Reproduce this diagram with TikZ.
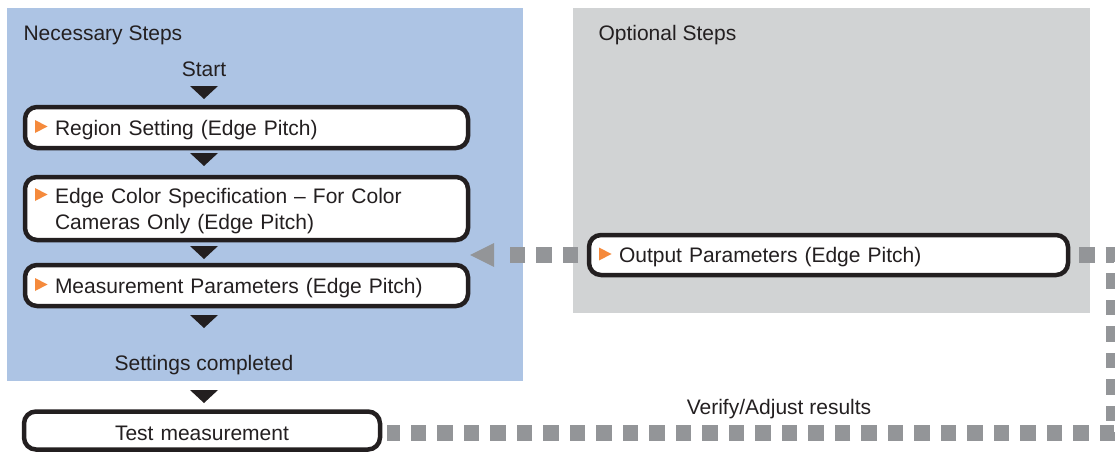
\documentclass[tikz,border=0pt]{standalone}
\usepackage{fontspec}
\setmainfont{Liberation Sans}
\usetikzlibrary{calc}
\definecolor{bluepanel}{RGB}{173,196,228}
\definecolor{graypanel}{RGB}{209,211,212}
\definecolor{dashgray}{RGB}{147,149,152}
\definecolor{orng}{RGB}{245,138,60}
\definecolor{ink}{RGB}{35,31,32}
\newcommand\ind{\hspace*{20pt}}
\tikzset{
  stepbox/.style={draw=ink, line width=4.5pt, rounded corners=12pt, fill=white,
    inner xsep=10pt, inner ysep=0pt, outer sep=0pt, align=left,
    text height=15pt, text depth=0pt},
  dashconn/.style={draw=dashgray, line width=15.5pt, dash pattern=on 15.5pt off 11pt, line join=miter},
  downtri/.style={fill=ink},
  marker/.style={fill=orng},
  lbl/.style={anchor=base, text=ink},
  panellbl/.style={anchor=base west, text=ink}
}
\begin{document}
\begin{tikzpicture}[x=1pt, y=-1pt, font=\fontsize{21}{26}\selectfont, text=ink]
\useasboundingbox (0,0) rectangle (1115,452);
% panels
\fill[bluepanel] (7,8) rectangle (523,381);
\fill[graypanel] (573,8) rectangle (1090,313);
\node[panellbl] (nec) at (20,41) {Necessary Steps};
\node[panellbl] (opt) at (595,41) {Optional Steps};
% texts
\node[lbl] (start) at (204,77) {Start};
\node[lbl] (done) at (204,370) {Settings completed};
% boxes
\node[stepbox, text width=423pt, minimum height=41pt] (b1) at (246.5,127.5) {\ind Region Setting (Edge Pitch)};
\node[stepbox, text width=423pt, minimum height=63pt, text depth=26pt] (b2) at (246.5,208.5)
  {\ind Edge Color Specification – For Color\\\ind Cameras Only (Edge Pitch)};
\node[stepbox, text width=423pt, minimum height=41pt] (b3) at (246.5,285.5) {\ind Measurement Parameters (Edge Pitch)};
\node[stepbox, text width=336pt, minimum height=38pt, align=center, text height=19pt] (test) at (202,430.5) {Test measurement};
\node[stepbox, text width=459pt, minimum height=40pt] (outbox) at (828.5,255) {\ind Output Parameters (Edge Pitch)};
% orange markers
\foreach \m in {b1, b3, outbox}{
  \fill[marker] ([xshift=10pt,yshift=1pt]\m.west) ++(0,-6.5) -- ++(0,13) -- ++(12.5,-6.5) -- cycle;
}
\fill[marker] ($(b2.north west)+(10,17.5)$) ++(0,-6.5) -- ++(0,13) -- ++(12.5,-6.5) -- cycle;
% black step triangles
\foreach \ty in {86,153,246,315,390}{
  \fill[downtri] (204,\ty) ++(-14,0) -- ++(28,0) -- ++(-14,13) -- cycle;
}
% dashed connectors
\coordinate (c1) at (1114,255);
\coordinate (c2) at (1114,433);
\coordinate (tip) at ([xshift=2pt]b3.east |- outbox.west);
\draw[dashconn] ([xshift=-11pt]outbox.west) -- ([xshift=38pt]tip);
\fill[dashgray] (tip) -- ++(24,-12) -- ++(0,24) -- cycle;
\draw[dashconn] ([xshift=11pt]outbox.east) -- (c1) -- (c2) -- ($(test.east |- c2)+(7,0)$);
\node[lbl] (verify) at (779,414) {Verify/Adjust results};
\end{tikzpicture}
\end{document}
